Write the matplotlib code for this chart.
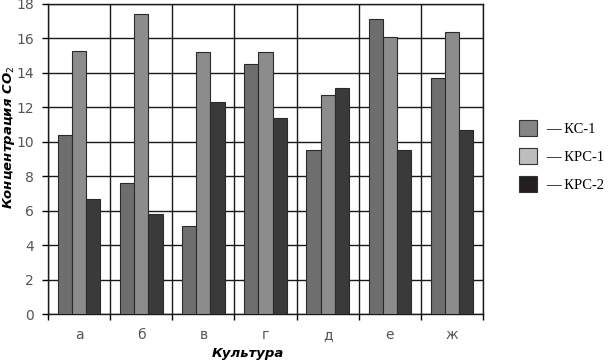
import matplotlib
matplotlib.use('Agg')
import matplotlib.pyplot as plt
import matplotlib.patches as patches
import numpy as np

# данные
cultures = ['а', 'б', 'в', 'г', 'д', 'е', 'ж']
series_names = ['КС-1', 'КРС-1', 'КРС-2']
ks1 = [10.4, 7.6, 5.1, 14.5, 9.5, 17.1, 13.7]
krs1 = [15.3, 17.4, 15.2, 15.2, 12.7, 16.1, 16.4]
krs2 = [6.7, 5.8, 12.3, 11.4, 13.1, 9.5, 10.7]
y_ticks = [0, 2, 4, 6, 8, 10, 12, 14, 16, 18]

bar_colors = ['#6e6e6e', '#8c8c8c', '#3a3a3a']
legend_colors = ['#858585', '#bdbdbd', '#231f20']

fig = plt.figure(figsize=(6.1, 3.6), dpi=100)
ax = fig.add_axes([0.0787, 0.127, 0.7133, 0.862])

x = np.arange(len(cultures))
w = 0.228
for i, vals in enumerate([ks1, krs1, krs2]):
    ax.bar(x + (i - 1) * w, vals, width=w, color=bar_colors[i],
           edgecolor='#2a2a2a', linewidth=0.8, zorder=3)

ax.set_xlim(-0.5, len(cultures) - 0.5)
ax.set_ylim(0, 18)

# подписи категорий по центру, засечки и сетка по границам
ax.set_xticks(x)
ax.set_xticklabels(cultures, fontsize=10, color='#555555')
ax.set_xticks(np.arange(-0.5, len(cultures)), minor=True)
ax.tick_params(axis='x', which='major', length=0, pad=10)
ax.tick_params(axis='x', which='minor', length=4, width=1, color='black', direction='out')
ax.set_yticks(y_ticks)
ax.set_yticklabels([str(t) for t in y_ticks], fontsize=10, color='#555555')
ax.tick_params(axis='y', length=4, width=1, color='black', direction='out', pad=6)

ax.grid(True, which='minor', axis='x', color='#1a1a1a', linewidth=1, zorder=1)
ax.grid(True, which='major', axis='y', color='#1a1a1a', linewidth=1, zorder=1)
ax.set_axisbelow(True)
for s in ax.spines.values():
    s.set_color('#1a1a1a')
    s.set_linewidth(1)

ax.set_xlabel('Культура', fontsize=9.5, fontweight='bold', fontstyle='italic')
ax.xaxis.set_label_coords(0.46, -0.126)
ax.xaxis.label.set_va('center')
ax.set_ylabel('Концентрация CO$_2$', fontsize=9.5, fontweight='bold', fontstyle='italic')
ax.yaxis.set_label_coords(-0.09, 0.57)
ax.yaxis.label.set_va('center')

# легенда
handles = [patches.Patch(facecolor=c, edgecolor='#333333', linewidth=0.8) for c in legend_colors]
labels = ['— ' + n for n in series_names]
leg = fig.legend(handles, labels, loc='upper left', bbox_to_anchor=(0.85, 0.668),
                 frameon=False, prop={'family': 'Liberation Serif', 'size': 10.5},
                 handlelength=1.3, handleheight=1.35, handletextpad=0.6,
                 labelspacing=0.8, borderaxespad=0, borderpad=0)

plt.savefig('out.png', dpi=100)
